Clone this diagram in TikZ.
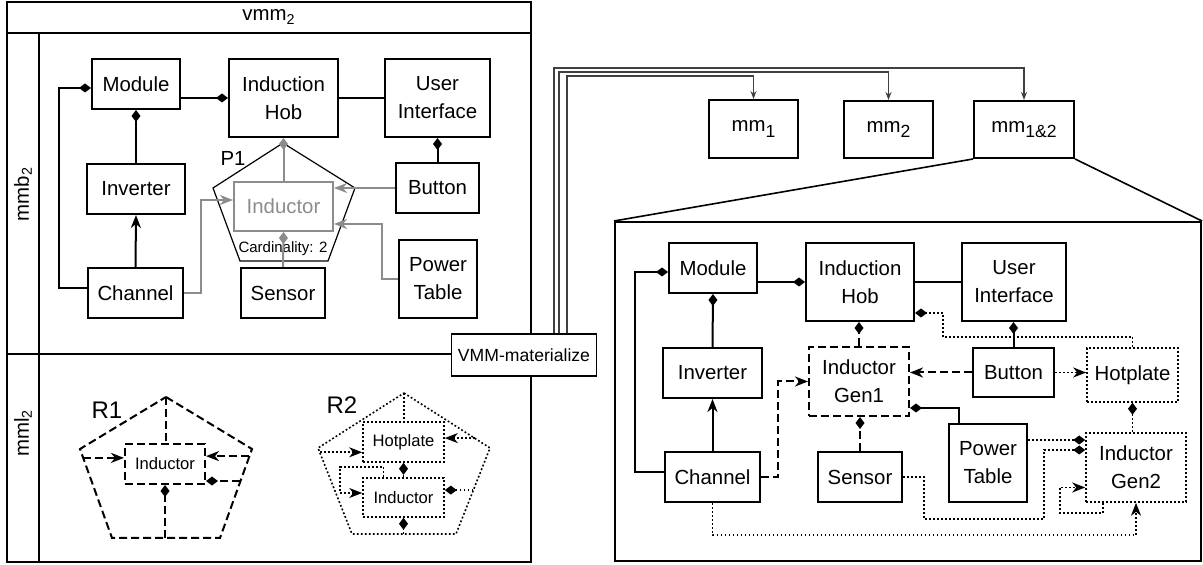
\documentclass[tikz,border=0pt]{standalone}
\usepackage{fontspec}
\setmainfont{Liberation Sans}
\usetikzlibrary{arrows.meta, calc}

% larger, lowered index for the model names
\newcommand{\mmidx}[1]{\raisebox{-0.5ex}{\fontsize{8.8}{10}\selectfont #1}}

\begin{document}
\begin{tikzpicture}[x=0.5pt, y=-0.5pt,
    every node/.style={font=\fontsize{10.2}{14}\selectfont},
    cls/.style 2 args={draw, line width=1pt, minimum width=#1, minimum height=#2, inner sep=1pt, align=center},
    wire/.style={line width=1pt},
    comp/.style={-{Diamond[length=6pt,width=4.5pt]}},
    arr/.style={-{Stealth[length=6.5pt,width=5pt,inset=2pt]}},
    gen/.style={dash pattern=on 4pt off 2pt},
    dots/.style={line width=0.8pt, dash pattern=on 0.9pt off 1.1pt},
    faded/.style={draw=gray!90, text=gray!90},
    feed/.style={line width=0.6pt, draw=black!75, -{Stealth[length=4pt,width=3pt]}},
    small/.style={font=\fontsize{8.3}{10}\selectfont},
    tag/.style={font=\fontsize{12}{14}\selectfont},
  ]
  \useasboundingbox (0,0) rectangle (1203,565);

  % vmm_2 frame with its two lanes
  \draw[wire] (7,2) rectangle (531,562);
  \draw[wire] (7,33) -- (531,33);
  \draw[wire] (39,33) -- (39,562);
  \draw[wire] (7,354) -- (531,354);
  \node at (269,17) {vmm\textsubscript{2}};
  \node[rotate=90] at (23,194) {mmb\textsubscript{2}};
  \node[rotate=90] at (23,433) {mml\textsubscript{2}};

  % base model
  \node[cls={44pt}{25pt}] (lmod) at (136,84) {Module};
  \node[cls={54.5pt}{39pt}] (lhob) at (283.5,98) {Induction\\Hob};
  \node[cls={52.5pt}{39pt}] (lui) at (437.5,98) {User\\Interface};
  \node[cls={49pt}{25pt}] (linv) at (136,189) {Inverter};
  \node[cls={47.5pt}{25pt}] (lch) at (135.5,293) {Channel};
  \node[cls={42pt}{25pt}] (lsen) at (283,293) {Sensor};
  \node[cls={41.5pt}{25pt}] (lbut) at (437.5,188) {Button};
  \node[cls={39pt}{39pt}] (lpt) at (438,279) {Power\\Table};

  % placement P1
  \draw[line width=0.6pt] (283,143) -- (355,188) -- (328,261) -- (240,261) -- (213,188) -- cycle;
  \node at (233,158) {P1};
  \node[font=\fontsize{7.5}{9}\selectfont] at (283,249) {Cardinality: 2};
  \node[cls={49.5pt}{24.5pt}, faded] (lind) at (283.5,206.5) {Inductor};

  \draw[wire, comp] (lmod.east |- lhob.west) -- (lhob.west);
  \draw[wire, comp] ([yshift=2.5pt]lch.west) -- ++(-28,0) |- ([yshift=-2pt]lmod.west);
  \draw[wire, comp] (linv.north) -- (lmod.south);
  \draw[wire, arr] (lch.north) -- (linv.south);
  \draw[wire] (lhob.east) -- (lui.west);
  \draw[wire, comp] (lbut.north) -- (lbut.north |- lui.south);
  \draw[wire, faded, comp] (lind.north) -- (lhob.south);
  \draw[wire, faded, arr] (lbut.west) -- (lbut.west -| lind.east);
  \draw[wire, faded, arr] (lch.east) -- ++(17,0) |- ([yshift=3.25pt]lind.west);
  \draw[wire, faded, comp] (lsen.north) -- (lind.south);
  \draw[wire, faded, arr] (lpt.west) -- ++(-16,0) |- ([yshift=-8.75pt]lind.east);

  % replacement R1
  \coordinate (r1T) at (166,397);
  \coordinate (r1L) at (80,449);
  \coordinate (r1R) at (252,449);
  \coordinate (r1BL) at (112,538);
  \coordinate (r1BR) at (220,538);
  \draw[wire, gen] (r1T) -- (r1R) -- (r1BR) -- (r1BL) -- (r1L) -- cycle;
  \node[tag] at (107,410) {R1};
  \node[cls={40pt}{20pt}, gen, small] (r1ind) at (165,464) {Inductor};
  \draw[wire, gen] (r1T) -- (r1T |- r1ind.north);
  \coordinate (r1a) at ($(r1L)!0.1!(r1BL)$);
  \draw[wire, gen, arr] (r1a) -- (r1a -| r1ind.west);
  \coordinate (r1b) at ($(r1R)!0.08!(r1BR)$);
  \draw[wire, gen, arr] (r1b) -- (r1b -| r1ind.east);
  \coordinate (r1c) at ($(r1R)!0.36!(r1BR)$);
  \draw[wire, gen, comp] (r1c) -- (r1c -| r1ind.east);
  \draw[wire, gen, comp] (r1ind.south |- r1BL) -- (r1ind.south);

  % replacement R2
  \coordinate (r2T) at (404,393);
  \coordinate (r2L) at (318,448);
  \coordinate (r2R) at (490,448);
  \coordinate (r2BL) at (352,534);
  \coordinate (r2BR) at (456,534);
  \draw[dots] (r2T) -- (r2R) -- (r2BR) -- (r2BL) -- (r2L) -- cycle;
  \node[tag] at (342,405) {R2};
  \node[cls={40.5pt}{20pt}, dots, small] (r2hot) at (403.5,442) {Hotplate};
  \node[cls={40.5pt}{19.5pt}, dots, small] (r2ind) at (403.5,497.5) {Inductor};
  \draw[dots] (r2T) -- (r2T |- r2hot.north);
  \coordinate (r2a) at ($(r2L)!0.05!(r2BL)$);
  \draw[dots, arr] (r2a) -- (r2a -| r2hot.west);
  \draw[dots, comp] (r2ind.north) -- (r2hot.south);
  \coordinate (r2k) at (340,467);
  \draw[dots, arr] ([xshift=-10pt]r2ind.north) |- (r2k) |- ([yshift=2.25pt]r2ind.west);
  \coordinate (r2b) at ($(r2T)!0.82!(r2R)$);
  \draw[dots, arr] (r2b) -- (r2b -| r2hot.east);
  \coordinate (r2c) at ($(r2R)!0.49!(r2BR)$);
  \draw[dots, comp] (r2c) -- (r2c -| r2ind.east);
  \draw[dots, comp] (r2ind.south |- r2BL) -- (r2ind.south);

  % materialization step and resulting models
  \node[draw, line width=0.8pt, fill=white, minimum width=72pt, minimum height=21pt,
        font=\fontsize{8.8}{10}\selectfont] (vmm) at (524,355) {VMM-materialize};
  \node[cls={44.5pt}{29pt}] (mm1) at (753.5,129) {mm\mmidx{1}};
  \node[cls={44.5pt}{28.5pt}] (mm2) at (888.5,129.5) {mm\mmidx{2}};
  \node[cls={50pt}{28.5pt}] (mm12) at (1024,129.5) {mm\mmidx{1\&2}};
  \coordinate (f1) at (554,68);
  \coordinate (f2) at (559,72);
  \coordinate (f3) at (567,76);
  \draw[feed] (vmm.north -| f1) -- (f1) -| (mm12.north);
  \draw[feed] (vmm.north -| f2) -- (f2) -| (mm2.north);
  \draw[feed] (vmm.north -| f3) -- (f3) -| (mm1.north);

  % expanded view of mm_1&2
  \node[draw, line width=1pt, minimum width=293pt, minimum height=169.5pt, inner sep=0pt] (zoom) at (908,391.5) {};
  \draw[line width=0.8pt] (mm12.south west) -- (zoom.north west);
  \draw[line width=0.8pt] (mm12.south east) -- (zoom.north east);

  \node[cls={44pt}{25pt}] (rmod) at (713,268) {Module};
  \node[cls={54pt}{39pt}] (rhob) at (860,282) {Induction\\Hob};
  \node[cls={52pt}{39pt}] (rui) at (1014,282) {User\\Interface};
  \node[cls={49.5pt}{25pt}] (rinv) at (712.5,373) {Inverter};
  \node[cls={47.5pt}{25pt}] (rch) at (712.5,477) {Channel};
  \node[cls={50pt}{34.5pt}, gen] (rg1) at (859,381.5) {Inductor\\Gen1};
  \node[cls={42pt}{25pt}] (rsen) at (860,477) {Sensor};
  \node[cls={40.5pt}{24.5pt}] (rbut) at (1013.5,372.5) {Button};
  \node[cls={45.5pt}{27pt}, dots] (rhot) at (1132.5,375) {Hotplate};
  \node[cls={39pt}{39pt}] (rpt) at (988,463) {Power\\Table};
  \node[cls={50pt}{34.5pt}, dots] (rg2) at (1136,467.5) {Inductor\\Gen2};

  \draw[wire, comp] ([yshift=2.5pt]rch.west) -- ++(-29,0) |- ([yshift=-2pt]rmod.west);
  \draw[wire, comp] (rmod.east |- rhob.west) -- (rhob.west);
  \draw[wire, comp] (rinv.north) -- (rmod.south);
  \draw[wire, arr] (rch.north) -- (rinv.south);
  \draw[wire] (rhob.east) -- (rui.west);
  \draw[wire, comp] (rbut.north) -- (rbut.north |- rui.south);
  \draw[wire, gen, comp] (rg1.north) -- (rg1.north |- rhob.south);
  \draw[wire, gen, comp] (rsen.north) -- (rsen.north |- rg1.south);
  \draw[wire, gen, arr] (rch.east) -- ++(17,0) |- (rg1.west);
  \draw[wire, gen, arr] (rbut.west) -- (rbut.west -| rg1.east);
  \draw[wire, comp] ([xshift=-14.5pt]rpt.north) |- ([yshift=-13.25pt]rg1.east);
  \coordinate (hk) at (943,337);
  \draw[dots, comp] (rhot.north) |- (hk) |- ([yshift=-15.5pt]rhob.east);
  \draw[dots, arr] (rbut.east) -- (rbut.east -| rhot.west);
  \draw[dots, comp] (rhot.south |- rg2.north) -- (rhot.south);
  \coordinate (pk) at ([yshift=11.5pt]rpt.east);
  \draw[dots, comp] (pk) -- (pk -| rg2.west);
  \coordinate (sk1) at (924,519);
  \coordinate (sk2) at (1044,450);
  \draw[dots, comp] (rsen.east) -| (sk1) -| (sk2) -- (sk2 -| rg2.west);
  \coordinate (lk) at (1060,513);
  \draw[dots, arr] ([xshift=-16.5pt]rg2.south) |- (lk) |- ([yshift=-10pt]rg2.west);
  \draw[dots, arr] (rch.south) -- ++(0,32) -| (rg2.south);
\end{tikzpicture}
\end{document}
